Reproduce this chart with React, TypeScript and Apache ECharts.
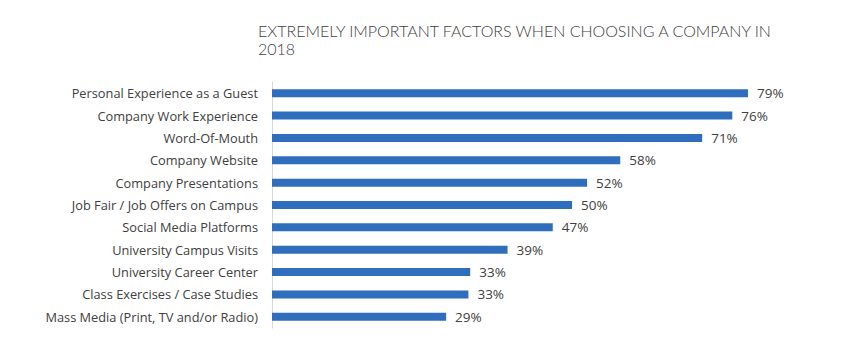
import React, { useEffect, useRef } from "react";
import * as echarts from "echarts";

const titleText = "EXTREMELY IMPORTANT FACTORS WHEN CHOOSING A COMPANY IN\n2018";

const categories = [
  "Personal Experience as a Guest",
  "Company Work Experience",
  "Word-Of-Mouth",
  "Company Website",
  "Company Presentations",
  "Job Fair / Job Offers on Campus",
  "Social Media Platforms",
  "University Campus Visits",
  "University Career Center",
  "Class Exercises / Case Studies",
  "Mass Media (Print, TV and/or Radio)",
];

const values = [79, 76.4, 71.4, 57.8, 52.3, 49.8, 46.6, 39.1, 32.9, 32.6, 28.9];

export default function App() {
  const ref = useRef<HTMLDivElement>(null);
  useEffect(() => {
    if (!ref.current) return;
    const chart = echarts.init(ref.current, null, { renderer: "svg" });
    chart.setOption({
      animation: false,
      backgroundColor: "#ffffff",
      title: {
        text: titleText,
        left: 245,
        top: 8,
        textStyle: {
          fontFamily: "Lato",
          fontWeight: 300,
          fontSize: 16,
          color: "#404040",
          lineHeight: 18,
        },
      },
      grid: { left: 264, right: 100, top: 74, bottom: 17, containLabel: false },
      xAxis: {
        type: "value",
        min: 0,
        max: 80,
        show: false,
      },
      yAxis: {
        type: "category",
        data: categories,
        inverse: true,
        axisTick: { show: false },
        axisLine: { show: true, lineStyle: { color: "#d9d9d9", width: 1 } },
        axisLabel: {
          margin: 14,
          fontFamily: "Open Sans",
          fontSize: 12.8,
          color: "#404040",
        },
        splitLine: { show: false },
      },
      series: [
        {
          type: "bar",
          data: values,
          barWidth: 8,
          itemStyle: { color: "#2f6ebd" },
          label: {
            show: true,
            position: "right",
            distance: 9,
            fontFamily: "Open Sans",
            fontSize: 13.5,
            color: "#404040",
            formatter: (p: any) => Math.round(p.value) + "%",
          },
        },
      ],
    });
    return () => chart.dispose();
  }, []);
  return <div ref={ref} style={{ width: 846, height: 337 }} />;
}
